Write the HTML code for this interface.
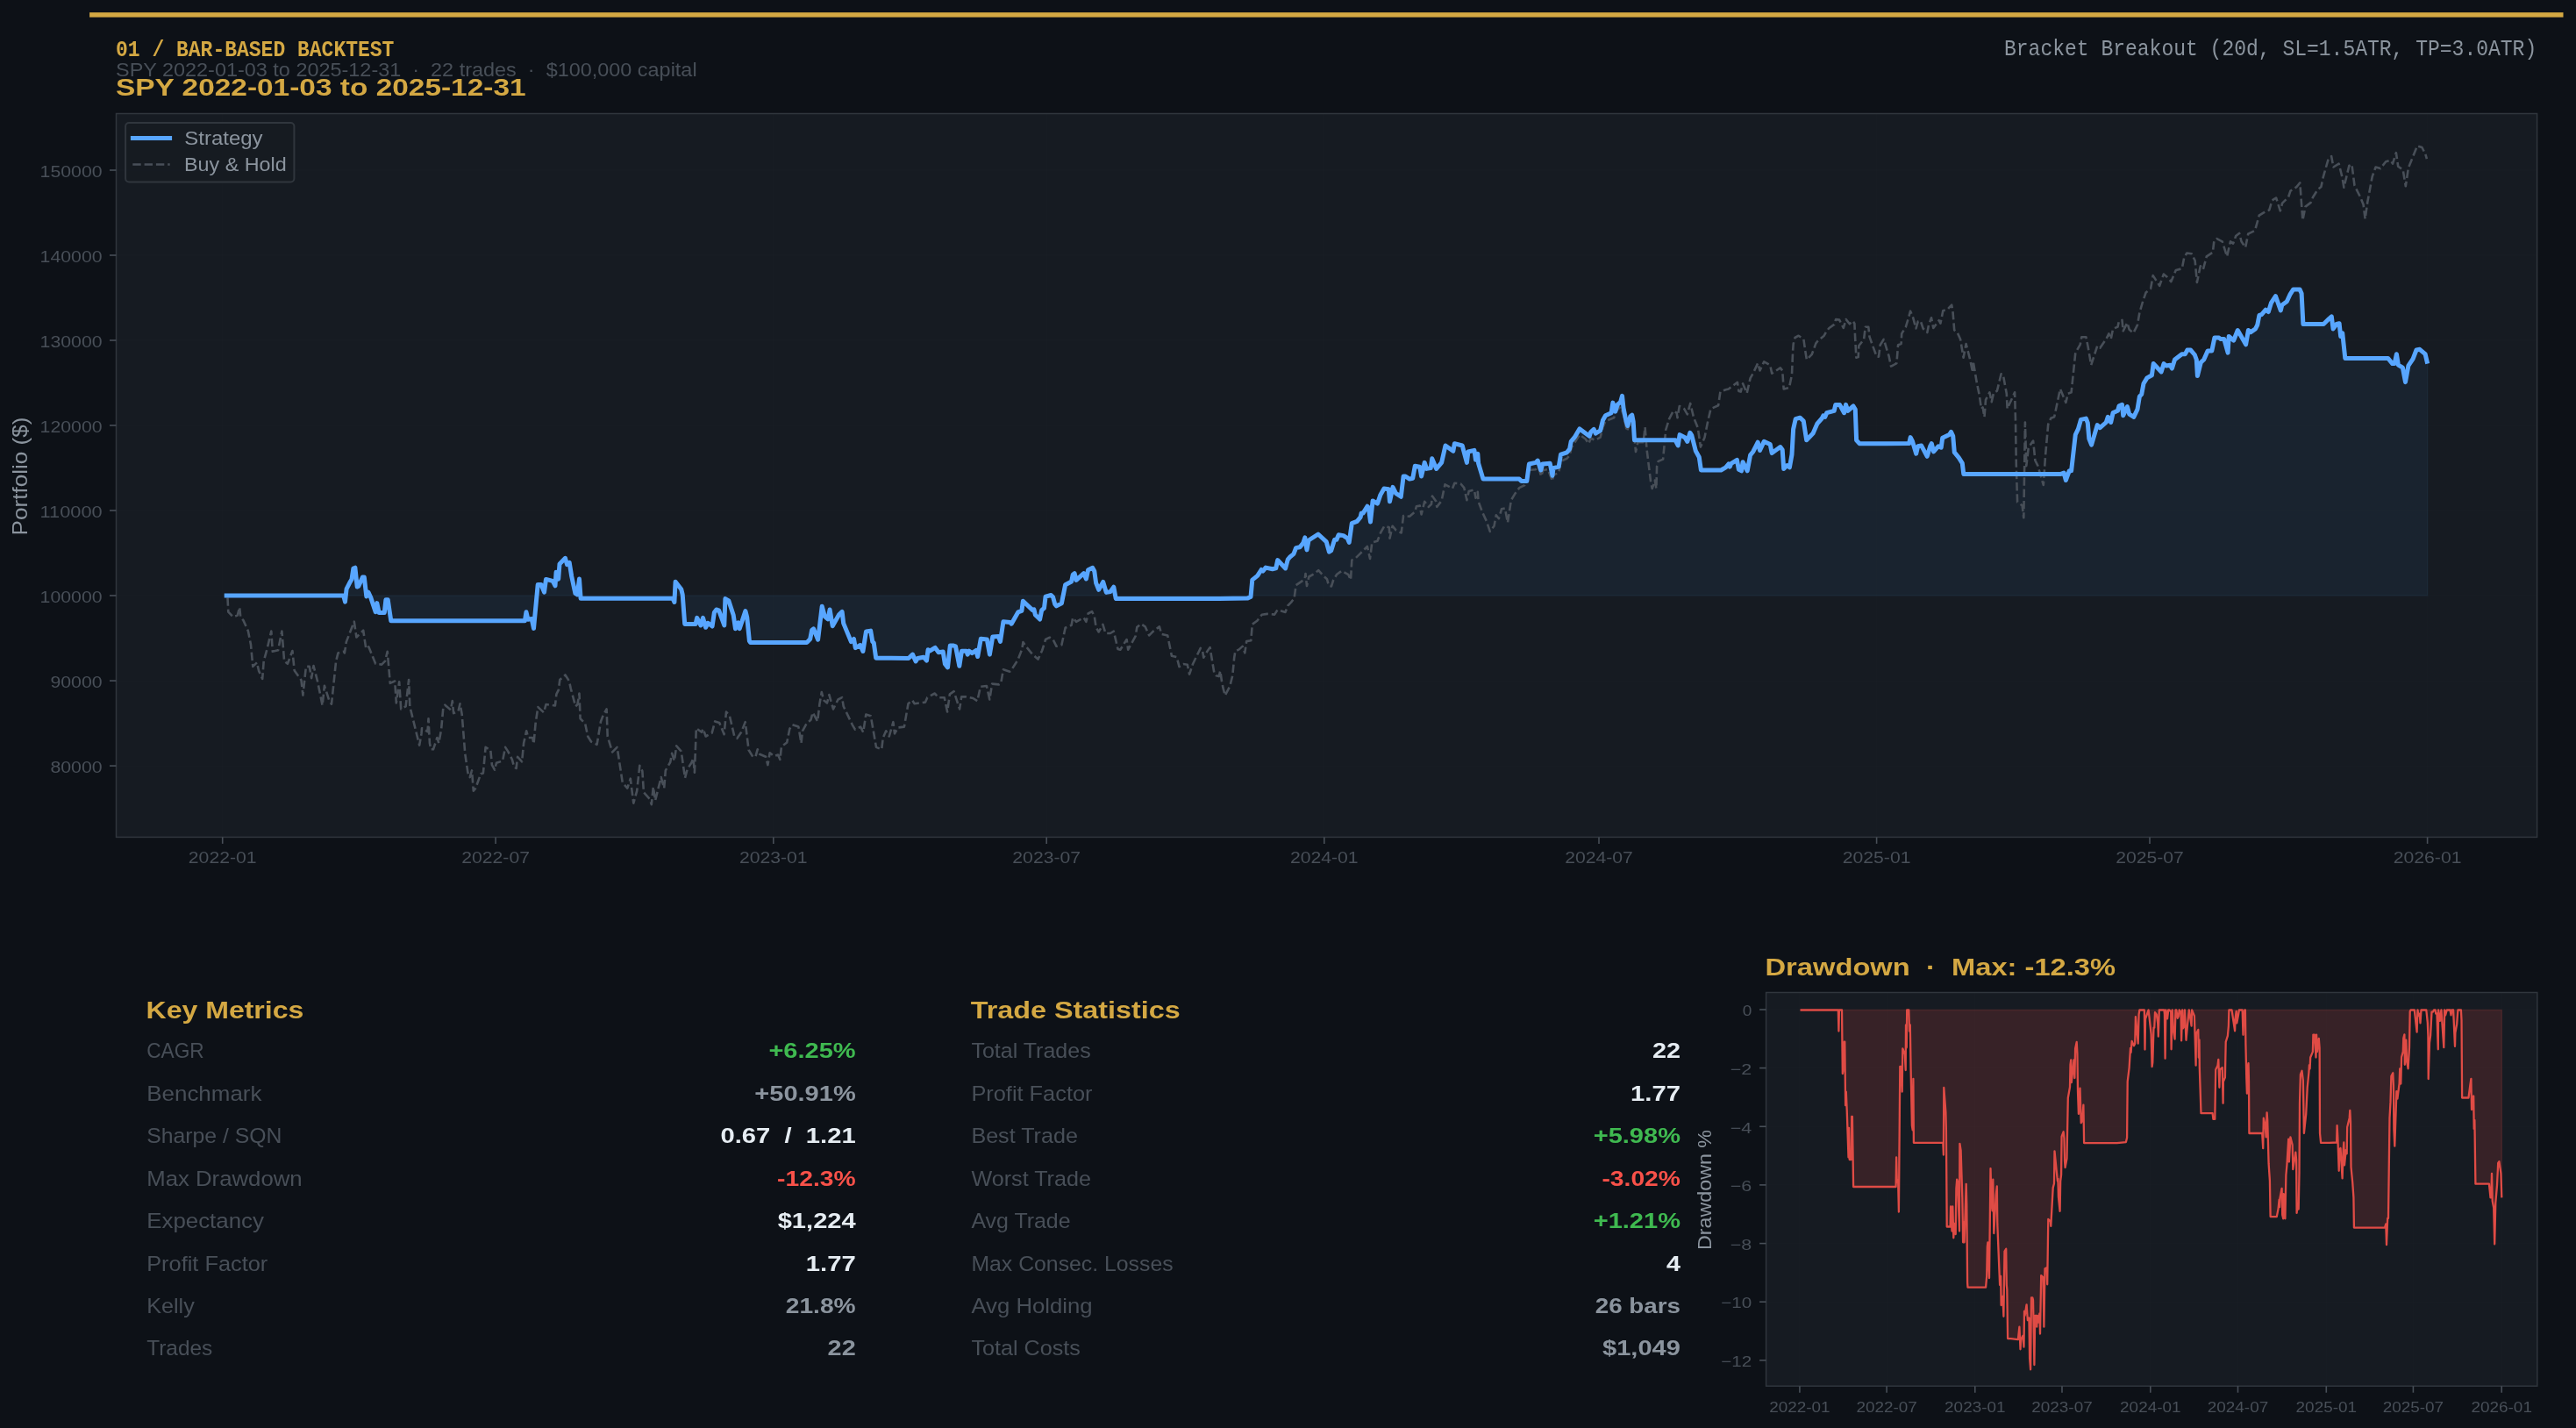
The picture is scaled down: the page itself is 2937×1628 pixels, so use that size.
<!DOCTYPE html>
<html><head><meta charset="utf-8"><title>Backtest</title>
<style>html,body{margin:0;padding:0;background:#0d1117;}text{white-space:pre;}body{width:2937px;height:1628px;overflow:hidden;font-family:"Liberation Sans",sans-serif;}</style></head>
<body>
<svg width="2937" height="1628" viewBox="0 0 2937 1628" style="display:block;will-change:transform">
<rect x="0" y="0" width="2937" height="1628" fill="#0d1117"/>
<rect x="102.1" y="14.2" width="2820.4" height="5.45" fill="#d4a843"/>
<text x="132.0" y="63.7" font-family="Liberation Mono, monospace" font-size="25.44" font-weight="bold" fill="#d4a843" text-anchor="start" textLength="317.4" lengthAdjust="spacingAndGlyphs" xml:space="preserve">01 / BAR-BASED BACKTEST</text>
<text x="132.0" y="87.0" font-family="Liberation Sans, sans-serif" font-size="21.45" font-weight="normal" fill="#484f58" text-anchor="start" textLength="662.6" lengthAdjust="spacingAndGlyphs" xml:space="preserve">SPY 2022-01-03 to 2025-12-31  ·  22 trades  ·  $100,000 capital</text>
<text x="132.0" y="108.8" font-family="Liberation Sans, sans-serif" font-size="28.04" font-weight="bold" fill="#d4a843" text-anchor="start" textLength="467.6" lengthAdjust="spacingAndGlyphs" xml:space="preserve">SPY 2022-01-03 to 2025-12-31</text>
<text x="2892.2" y="63.0" font-family="Liberation Mono, monospace" font-size="25.44" font-weight="normal" fill="#8b949e" text-anchor="end" textLength="607.2" lengthAdjust="spacingAndGlyphs" xml:space="preserve">Bracket Breakout (20d, SL=1.5ATR, TP=3.0ATR)</text>
<rect x="132.5" y="129.5" width="2760.1" height="824.9" fill="#161b22"/>
<line x1="132.5" x2="2892.6" y1="194.0" y2="194.0" stroke="#21262d" stroke-width="1.4" opacity="0.12"/>
<line x1="132.5" x2="2892.6" y1="291.0" y2="291.0" stroke="#21262d" stroke-width="1.4" opacity="0.12"/>
<line x1="132.5" x2="2892.6" y1="388.0" y2="388.0" stroke="#21262d" stroke-width="1.4" opacity="0.12"/>
<line x1="132.5" x2="2892.6" y1="485.0" y2="485.0" stroke="#21262d" stroke-width="1.4" opacity="0.12"/>
<line x1="132.5" x2="2892.6" y1="582.0" y2="582.0" stroke="#21262d" stroke-width="1.4" opacity="0.12"/>
<line x1="132.5" x2="2892.6" y1="679.0" y2="679.0" stroke="#21262d" stroke-width="1.4" opacity="0.12"/>
<line x1="132.5" x2="2892.6" y1="776.1" y2="776.1" stroke="#21262d" stroke-width="1.4" opacity="0.12"/>
<line x1="132.5" x2="2892.6" y1="873.1" y2="873.1" stroke="#21262d" stroke-width="1.4" opacity="0.12"/>
<line x1="253.7" x2="253.7" y1="129.5" y2="954.4" stroke="#21262d" stroke-width="1.4" opacity="0.12"/>
<line x1="565.1" x2="565.1" y1="129.5" y2="954.4" stroke="#21262d" stroke-width="1.4" opacity="0.12"/>
<line x1="881.8" x2="881.8" y1="129.5" y2="954.4" stroke="#21262d" stroke-width="1.4" opacity="0.12"/>
<line x1="1193.2" x2="1193.2" y1="129.5" y2="954.4" stroke="#21262d" stroke-width="1.4" opacity="0.12"/>
<line x1="1509.8" x2="1509.8" y1="129.5" y2="954.4" stroke="#21262d" stroke-width="1.4" opacity="0.12"/>
<line x1="1823.0" x2="1823.0" y1="129.5" y2="954.4" stroke="#21262d" stroke-width="1.4" opacity="0.12"/>
<line x1="2139.6" x2="2139.6" y1="129.5" y2="954.4" stroke="#21262d" stroke-width="1.4" opacity="0.12"/>
<line x1="2451.0" x2="2451.0" y1="129.5" y2="954.4" stroke="#21262d" stroke-width="1.4" opacity="0.12"/>
<line x1="2767.6" x2="2767.6" y1="129.5" y2="954.4" stroke="#21262d" stroke-width="1.4" opacity="0.12"/>
<polygon points="255.7,679.0 255.7,679.1 391.7,679.1 393.5,686.1 395.1,671.3 398.7,664.3 401.0,660.4 402.9,648.0 404.9,647.2 407.2,669.0 408.8,668.2 413.4,658.1 415.3,658.1 417.8,679.9 420.0,675.2 422.8,681.4 428.2,697.7 429.8,687.6 432.1,698.5 438.3,698.5 439.9,683.7 442.2,683.7 445.8,707.8 598.4,707.8 600.0,697.7 601.9,706.3 606.2,705.5 608.5,716.4 613.2,666.6 617.1,666.6 620.5,675.2 622.5,660.4 630.2,662.4 633.0,667.8 634.1,652.3 636.7,660.1 638.0,643.0 644.5,636.3 646.5,643.7 649.2,641.4 651.7,657.0 655.9,676.4 658.2,677.9 660.5,660.1 662.1,682.3 767.0,682.3 768.9,686.5 770.1,663.2 776.7,671.7 778.2,677.9 780.7,711.4 793.1,711.4 794.7,704.4 798.9,712.9 801.5,704.4 804.6,715.3 807.1,710.3 812.1,714.0 814.4,698.2 816.8,695.0 819.6,695.8 825.8,712.9 826.9,682.6 830.8,684.9 836.2,701.3 838.5,716.8 841.6,709.8 843.2,716.8 849.9,696.6 851.7,703.6 854.4,730.8 855.6,732.4 920.1,732.4 923.7,728.5 925.6,718.4 927.5,716.8 932.6,729.2 937.2,691.2 940.4,702.8 943.9,705.9 946.1,695.0 949.2,713.7 956.7,700.5 960.1,697.4 961.7,710.6 970.4,731.6 973.5,728.5 975.3,738.6 980.8,735.5 983.9,742.5 987.5,719.9 992.7,719.1 994.8,731.6 996.3,733.1 998.7,750.2 1010.0,750.2 1035.9,750.5 1040.5,746.1 1044.1,753.9 1046.3,750.5 1053.0,749.2 1056.5,753.1 1058.1,740.7 1060.0,742.2 1066.2,738.4 1070.1,743.8 1075.2,743.0 1077.4,757.0 1080.5,760.9 1083.3,736.0 1087.2,736.0 1089.5,736.8 1093.8,759.3 1096.5,742.2 1101.9,742.2 1103.2,746.1 1105.0,742.2 1108.2,744.6 1112.8,741.5 1114.7,748.5 1118.3,728.3 1125.3,729.0 1128.4,746.1 1131.8,725.9 1138.5,725.6 1140.5,731.4 1143.9,708.8 1151.7,709.6 1153.2,711.2 1160.7,697.9 1164.9,696.4 1166.4,685.2 1177.3,695.6 1178.9,694.8 1180.4,701.0 1185.6,706.0 1187.7,695.6 1190.5,693.3 1192.1,680.1 1198.3,678.5 1200.6,680.8 1202.7,688.6 1204.5,690.9 1210.4,687.8 1214.6,666.8 1221.6,663.0 1223.2,655.2 1225.1,653.6 1227.1,661.4 1235.6,653.6 1238.4,659.9 1240.6,649.7 1245.7,647.4 1247.8,651.3 1249.6,664.5 1252.7,672.3 1257.7,663.4 1261.3,675.4 1265.9,674.6 1269.8,669.2 1272.2,682.4 1390.0,682.4 1422.1,682.1 1426.0,680.5 1427.8,661.1 1433.7,656.4 1438.1,649.5 1440.0,651.0 1443.1,647.1 1450.8,648.7 1454.7,647.9 1456.7,638.6 1465.6,647.9 1468.3,637.8 1471.0,634.7 1474.9,631.6 1477.6,624.6 1481.9,623.8 1485.8,619.1 1487.8,612.9 1490.0,626.9 1492.0,616.0 1502.9,609.0 1512.2,617.6 1515.4,629.2 1517.7,627.7 1521.6,615.3 1523.9,615.3 1526.2,609.8 1531.7,610.6 1536.3,613.7 1538.2,618.4 1541.3,596.6 1547.2,594.3 1551.1,589.6 1552.2,584.9 1554.2,584.9 1558.9,577.2 1560.4,578.7 1562.5,595.0 1565.1,570.9 1570.5,574.1 1574.0,563.9 1578.0,557.0 1583.3,557.7 1584.5,571.7 1588.0,555.4 1591.5,562.4 1597.3,566.3 1600.1,543.0 1602.4,543.0 1607.1,546.1 1610.7,545.3 1613.3,531.3 1618.7,532.1 1620.6,543.0 1624.2,527.4 1626.5,534.4 1631.2,533.6 1632.7,522.8 1637.7,534.4 1643.6,527.4 1648.0,508.0 1656.8,514.2 1658.4,505.7 1667.2,508.0 1672.4,527.4 1673.9,515.0 1680.9,513.4 1682.5,524.3 1684.8,517.3 1685.6,528.2 1691.0,546.1 1732.2,546.1 1734.6,548.4 1740.8,548.4 1743.4,529.0 1750.9,527.4 1753.2,525.1 1756.8,536.0 1758.7,529.0 1767.2,528.2 1770.0,542.2 1771.0,533.7 1777.2,532.1 1779.5,518.2 1786.5,515.8 1789.6,511.9 1791.2,503.4 1795.1,498.7 1801.0,488.9 1812.2,497.2 1813.7,492.5 1817.2,489.4 1819.2,494.1 1824.6,490.9 1827.4,479.3 1830.5,473.8 1837.1,470.7 1838.9,459.1 1841.7,469.2 1844.1,461.4 1847.6,458.3 1849.5,451.3 1851.0,465.3 1853.8,479.3 1855.7,485.5 1858.8,474.6 1860.7,473.1 1862.2,480.8 1863.5,501.8 1910.1,501.8 1913.2,508.0 1915.1,495.6 1921.0,498.7 1923.8,503.4 1926.9,493.3 1928.8,496.4 1933.4,514.3 1937.3,521.3 1939.4,536.0 1962.2,536.0 1967.6,532.9 1970.8,529.0 1972.3,532.1 1973.9,528.3 1980.4,524.4 1982.4,535.3 1985.5,536.8 1987.1,526.7 1992.2,536.8 1995.6,518.9 1998.7,515.0 2004.2,504.2 2006.5,513.5 2011.2,503.4 2018.2,506.5 2020.2,516.6 2029.8,509.6 2032.2,512.7 2033.7,534.5 2037.6,530.6 2040.4,532.9 2043.0,518.2 2044.6,489.4 2047.2,477.7 2052.4,476.2 2056.3,480.1 2059.7,501.8 2067.1,494.1 2071.8,483.2 2077.2,477.0 2078.8,473.8 2080.8,475.4 2082.7,470.7 2091.2,468.4 2092.8,461.4 2097.5,461.4 2102.6,470.7 2104.5,461.4 2106.8,468.4 2113.0,463.0 2115.3,466.8 2116.6,501.8 2120.0,505.7 2150.0,505.7 2176.6,505.6 2178.2,498.6 2180.5,503.2 2184.7,517.2 2186.7,508.7 2190.6,507.9 2197.2,520.3 2200.7,508.7 2202.3,505.6 2204.6,514.9 2210.1,508.7 2213.2,510.2 2214.7,499.3 2222.5,495.5 2224.5,492.4 2226.7,497.0 2228.3,515.7 2233.4,521.9 2237.3,528.1 2238.8,540.5 2349.2,540.5 2353.1,539.0 2355.4,547.5 2359.3,536.7 2361.6,536.7 2366.3,495.5 2369.4,489.2 2372.5,478.4 2378.4,477.1 2380.3,482.2 2381.8,500.1 2384.6,507.1 2391.2,484.6 2394.3,487.7 2401.3,481.5 2403.3,475.3 2406.7,481.5 2409.1,470.6 2414.5,468.3 2416.0,462.8 2419.5,461.3 2420.7,473.7 2425.4,463.6 2427.7,472.1 2432.8,475.3 2437.0,466.7 2439.4,451.9 2441.7,449.6 2444.0,437.2 2447.9,430.9 2453.4,427.8 2455.2,414.6 2464.2,423.9 2467.0,414.6 2469.7,417.0 2474.3,416.2 2476.4,420.1 2479.5,410.0 2487.6,403.7 2491.4,403.7 2493.8,399.1 2497.7,399.1 2502.3,404.5 2504.3,410.0 2505.4,428.6 2509.3,413.1 2512.7,410.0 2517.1,399.9 2521.8,399.9 2524.9,385.1 2530.0,385.1 2531.9,386.6 2535.8,386.6 2540.1,402.1 2541.2,383.5 2546.6,388.2 2551.3,376.5 2560.6,392.8 2563.4,376.5 2566.1,378.8 2571.5,374.9 2573.8,370.3 2575.9,359.4 2578.5,358.6 2583.2,353.2 2586.3,355.5 2589.4,345.4 2594.5,337.6 2600.3,353.9 2601.8,347.7 2607.3,343.8 2611.2,335.3 2614.7,329.9 2622.0,329.9 2624.1,334.5 2625.9,369.5 2649.2,369.5 2655.5,363.3 2658.3,360.9 2660.1,374.9 2664.0,369.5 2667.1,368.7 2668.7,383.5 2670.7,379.6 2673.8,408.4 2722.6,408.4 2727.7,414.6 2730.1,414.6 2732.4,403.7 2734.4,416.1 2739.4,419.2 2742.5,435.6 2745.9,416.9 2751.1,409.1 2755.0,399.0 2758.8,398.3 2765.1,403.7 2767.7,414.6 2767.7,679.0" fill="#58a6ff" fill-opacity="0.06" stroke="#58a6ff" stroke-opacity="0.06" stroke-width="1.4"/>
<polyline points="259.5,681.4 260.3,697.7 265.8,703.2 270.7,701.6 273.2,692.3 274.3,703.9 277.4,707.1 282.9,719.5 286.0,735.0 288.3,759.9 293.0,755.3 295.0,764.6 299.2,773.9 300.7,753.7 304.6,739.7 309.3,719.5 310.8,742.8 317.1,741.3 321.4,719.5 324.1,753.7 327.9,756.8 333.4,742.0 335.7,764.6 343.5,775.5 345.4,792.6 348.9,759.9 352.8,759.9 355.1,773.1 357.5,759.1 362.1,777.0 367.6,804.2 369.9,781.7 375.4,798.8 378.0,802.7 383.1,753.7 385.5,744.4 391.7,742.8 392.9,744.4 394.8,731.9 403.8,708.6 406.4,726.5 414.2,718.7 417.3,739.7 420.4,737.4 428.2,756.8 435.2,757.6 439.1,753.7 441.7,742.8 444.8,778.9 450.2,776.5 451.8,801.4 455.2,777.3 457.2,808.4 462.6,805.3 466.1,775.0 467.3,805.3 475.1,837.2 478.2,849.6 480.5,836.4 481.0,830.2 487.5,834.1 488.5,819.3 489.9,847.3 491.4,854.3 494.0,854.3 498.4,841.0 500.3,847.3 503.1,831.7 505.4,806.1 507.3,803.7 513.9,809.2 515.8,799.1 517.1,813.1 522.5,810.7 524.5,802.2 526.7,814.6 530.3,859.7 533.4,880.7 535.7,886.1 538.0,878.4 539.8,901.7 542.2,898.6 548.2,882.2 550.9,881.5 553.6,851.9 559.3,855.0 560.9,872.1 564.0,877.6 566.0,869.8 573.0,867.5 576.1,851.9 579.2,856.6 583.9,865.9 586.2,874.5 588.6,876.0 590.1,862.8 595.1,868.3 597.1,847.3 600.2,833.3 602.3,841.0 607.2,841.0 608.5,848.0 610.6,824.7 613.4,806.1 620.0,812.3 622.5,803.0 632.9,804.5 634.4,791.3 636.8,786.6 638.3,775.0 644.5,769.5 648.9,776.5 650.8,785.1 656.2,805.3 658.5,803.0 660.5,790.5 661.6,819.3 667.1,824.7 670.2,839.5 674.1,845.7 680.6,848.8 685.0,822.4 688.1,814.6 691.6,808.4 692.7,839.5 698.2,857.4 703.6,851.9 709.8,892.4 715.3,898.6 718.8,887.7 722.3,915.7 726.2,901.7 729.3,872.9 732.4,879.1 733.9,903.2 740.9,911.0 742.8,917.2 744.8,897.0 747.1,912.6 753.7,886.1 757.2,898.6 758.8,878.4 764.2,869.0 766.1,858.9 768.9,867.5 771.2,850.4 776.7,856.6 781.0,886.9 783.7,876.8 788.3,869.8 790.4,864.4 791.9,880.7 793.8,830.2 800.0,834.8 801.6,830.9 804.7,839.5 811.7,835.6 815.2,822.4 820.2,823.9 825.6,837.2 828.0,811.5 831.9,816.2 837.3,839.5 840.4,841.8 845.1,834.8 849.7,823.2 853.6,855.0 858.3,862.8 861.4,862.8 863.7,854.3 866.1,859.7 873.1,862.8 875.4,872.1 877.7,858.2 882.4,862.0 887.1,860.5 889.4,865.9 890.9,851.2 897.2,846.5 900.3,830.9 903.4,826.3 910.4,828.6 913.5,847.3 915.0,833.3 919.7,824.7 924.4,820.8 926.7,812.3 932.1,822.4 934.5,802.2 936.8,789.0 939.1,798.3 943.0,801.4 945.4,792.1 950.0,808.4 955.5,797.5 960.1,795.2 961.7,805.3 971.8,826.3 974.9,831.7 981.1,828.6 984.2,834.8 987.3,814.6 992.8,816.2 999.0,851.9 1005.2,854.3 1006.8,841.0 1010.2,833.3 1013.8,839.5 1018.4,823.2 1020.0,836.4 1023.9,829.4 1030.9,828.6 1035.5,802.2 1040.2,798.3 1042.5,802.2 1055.0,800.6 1057.3,795.2 1065.8,790.5 1069.7,795.2 1076.7,795.2 1080.1,811.5 1082.9,791.3 1087.6,788.2 1094.1,808.4 1096.2,794.4 1101.6,794.4 1109.4,796.0 1114.3,799.1 1117.9,782.8 1124.9,782.0 1128.3,797.5 1131.1,779.6 1138.9,780.4 1141.2,778.9 1143.9,763.3 1151.3,765.7 1152.9,764.1 1160.4,752.4 1165.3,740.0 1166.4,732.1 1170.3,737.6 1177.3,746.1 1183.5,751.6 1188.2,741.5 1192.1,729.0 1196.8,726.7 1200.6,729.0 1204.5,736.8 1210.4,735.3 1214.6,715.8 1221.6,712.7 1223.2,704.2 1227.1,708.8 1235.6,704.2 1238.4,708.8 1240.6,699.5 1245.0,697.2 1247.8,702.6 1249.6,715.0 1252.7,720.5 1257.4,711.9 1260.5,722.0 1265.9,722.0 1269.8,719.7 1274.5,739.9 1277.3,740.7 1284.6,729.0 1286.2,740.7 1294.7,725.1 1296.3,715.0 1300.9,711.2 1305.6,714.3 1310.2,724.4 1314.9,719.7 1321.9,714.3 1324.2,722.8 1331.2,724.4 1335.9,747.7 1341.7,749.2 1344.5,760.1 1349.1,757.0 1353.8,757.8 1356.1,768.7 1360.0,757.0 1368.8,738.9 1371.1,742.4 1372.3,749.7 1376.5,742.4 1379.6,738.1 1381.2,748.2 1384.3,766.8 1386.6,770.3 1389.7,771.1 1391.3,764.9 1392.9,776.2 1394.4,783.9 1396.7,792.9 1402.2,782.4 1405.3,770.0 1407.2,749.7 1408.4,742.4 1412.7,740.4 1416.6,736.9 1419.3,744.3 1421.2,731.1 1426.3,730.3 1427.8,711.7 1433.3,707.8 1438.7,700.8 1444.9,699.9 1453.1,700.6 1456.6,695.2 1465.5,697.9 1468.3,690.5 1472.1,686.6 1475.6,682.0 1477.6,667.2 1487.7,660.2 1488.5,654.0 1490.0,668.0 1492.4,657.5 1499.3,653.6 1503.2,650.1 1508.7,656.3 1513.0,660.2 1514.9,667.6 1518.0,668.4 1520.3,661.0 1524.2,654.8 1529.7,650.9 1537.4,655.2 1540.0,661.0 1541.3,638.6 1545.7,636.2 1551.1,630.8 1558.9,623.0 1562.0,637.0 1564.3,618.4 1570.5,616.8 1574.0,607.5 1578.3,599.7 1583.8,601.3 1584.5,613.7 1587.6,599.7 1591.5,604.4 1597.7,607.5 1600.1,588.0 1607.1,588.8 1613.3,583.4 1614.9,577.2 1618.7,576.4 1620.6,586.5 1624.2,571.7 1628.8,577.9 1632.0,574.8 1633.0,565.5 1637.4,571.7 1638.2,577.9 1643.6,570.9 1647.5,552.3 1656.0,557.0 1658.4,550.7 1665.4,551.5 1669.3,556.2 1672.4,570.2 1674.7,560.1 1680.9,558.5 1682.5,567.8 1684.8,560.8 1685.6,571.7 1690.2,584.2 1694.9,594.3 1698.8,605.9 1703.5,599.7 1705.8,587.3 1708.9,591.2 1712.0,580.3 1715.9,579.5 1719.0,595.8 1722.9,570.2 1727.6,562.4 1732.2,556.2 1738.4,553.1 1743.1,536.0 1750.9,535.2 1754.0,532.1 1757.1,543.0 1759.4,536.0 1764.9,535.2 1770.0,548.4 1771.0,541.5 1777.2,539.1 1779.5,525.9 1786.5,522.8 1789.6,518.9 1791.7,510.4 1801.0,495.6 1807.5,500.3 1811.4,505.7 1813.7,499.5 1818.4,501.8 1824.6,498.7 1827.4,487.1 1830.5,480.1 1840.2,476.2 1841.7,469.2 1847.6,463.7 1851.0,473.1 1854.9,491.7 1858.8,480.8 1862.2,487.8 1865.0,515.0 1867.4,504.2 1873.6,504.2 1875.6,487.1 1877.5,511.9 1882.1,549.2 1883.7,557.0 1886.8,547.7 1888.4,557.0 1889.1,531.4 1890.7,525.9 1896.1,523.6 1899.2,490.2 1903.1,477.7 1907.8,468.4 1911.7,470.7 1912.5,476.2 1914.8,463.0 1920.2,466.1 1923.8,472.3 1927.2,459.9 1931.1,476.2 1935.8,487.8 1938.9,509.6 1943.5,498.7 1947.4,479.3 1950.5,466.1 1959.1,462.2 1961.4,446.6 1967.6,444.3 1970.8,443.5 1980.9,435.8 1982.4,445.9 1984.7,446.6 1987.1,437.3 1991.7,448.2 1995.6,431.1 1998.7,425.7 2004.2,414.0 2006.5,422.5 2011.2,412.4 2018.2,416.3 2020.2,425.7 2029.8,419.4 2032.2,422.5 2033.7,443.5 2039.9,442.0 2043.0,427.2 2044.1,400.0 2044.7,392.0 2046.5,385.0 2050.6,382.7 2056.4,386.8 2058.1,399.0 2059.9,410.1 2065.7,404.2 2070.4,391.4 2072.7,388.5 2079.7,382.7 2082.6,377.4 2085.5,374.0 2091.3,369.9 2093.1,364.1 2097.1,364.6 2101.8,374.0 2104.7,364.1 2108.8,369.3 2112.3,365.8 2114.4,368.7 2115.2,386.2 2116.4,407.7 2118.7,407.1 2119.3,394.3 2125.1,386.8 2126.8,372.8 2130.3,372.8 2131.5,383.9 2135.0,393.8 2139.7,406.6 2142.0,406.6 2143.7,393.2 2147.8,386.8 2150.7,396.7 2153.6,406.0 2156.0,417.6 2158.3,416.5 2162.4,414.1 2164.1,393.2 2167.6,392.0 2168.2,380.4 2172.8,372.8 2175.8,362.9 2178.1,354.7 2181.0,361.7 2184.5,374.5 2186.8,366.4 2189.7,365.8 2192.6,374.5 2197.3,379.2 2199.0,370.5 2202.0,362.3 2204.3,374.0 2207.8,369.3 2210.7,365.2 2212.4,368.7 2215.3,354.2 2220.0,353.0 2225.2,347.7 2226.4,354.2 2228.2,376.3 2231.7,379.2 2235.1,386.8 2238.6,407.7 2241.6,392.0 2246.2,410.1 2249.1,424.6 2249.7,411.8 2253.8,436.3 2256.7,450.2 2259.0,466.0 2260.6,464.4 2262.5,475.3 2264.0,455.8 2268.4,447.3 2270.7,458.2 2273.0,448.0 2276.9,445.7 2281.6,426.3 2283.9,427.8 2287.8,448.8 2288.6,465.9 2297.1,447.3 2298.0,479.9 2298.8,530.0 2300.1,572.4 2305.6,576.3 2307.3,590.3 2308.9,481.5 2310.3,531.2 2312.7,511.0 2315.0,507.1 2318.1,502.5 2320.4,525.0 2323.5,531.2 2329.8,553.0 2332.1,518.8 2335.2,483.8 2338.3,476.8 2342.2,475.3 2348.9,443.4 2355.4,458.9 2357.7,448.8 2361.6,447.3 2366.3,402.2 2371.7,392.9 2373.3,384.3 2378.4,384.3 2380.6,395.2 2384.2,416.2 2391.2,394.4 2394.3,396.7 2401.3,386.6 2404.4,380.4 2406.7,386.6 2409.1,375.0 2414.5,372.6 2416.0,365.7 2419.5,364.9 2420.7,377.3 2425.4,368.0 2427.7,375.8 2432.4,379.6 2437.0,370.3 2439.4,356.3 2443.3,343.1 2446.6,333.5 2452.1,328.9 2454.7,314.1 2462.2,325.8 2466.8,312.6 2470.7,315.7 2475.4,321.1 2480.8,307.9 2487.8,306.3 2490.2,293.9 2493.3,288.5 2498.7,289.2 2502.6,297.0 2504.9,321.9 2508.8,303.2 2511.9,307.1 2515.8,292.4 2522.8,287.7 2524.4,274.5 2527.5,272.1 2533.7,275.3 2539.1,292.4 2543.0,275.3 2546.1,277.6 2549.2,269.0 2553.1,265.9 2555.5,275.3 2560.1,282.2 2563.2,266.7 2571.0,262.8 2574.9,248.8 2575.7,245.7 2584.2,240.3 2587.3,239.5 2590.4,228.6 2595.1,225.5 2599.8,240.3 2602.1,231.7 2609.1,224.7 2611.4,217.7 2618.4,213.1 2622.3,208.4 2625.4,251.2 2628.5,235.6 2634.7,230.9 2637.1,224.7 2642.5,216.2 2646.4,213.1 2648.7,202.2 2654.2,182.8 2658.1,178.1 2660.4,190.5 2666.6,186.6 2670.5,202.2 2672.4,213.8 2678.3,189.0 2681.4,187.4 2684.5,211.5 2690.7,223.9 2694.6,233.3 2696.6,249.6 2699.3,230.2 2704.7,201.4 2708.6,190.5 2714.0,192.1 2720.2,184.3 2725.7,182.8 2728.0,186.6 2731.9,174.2 2734.2,189.7 2739.7,193.6 2742.8,212.3 2745.9,191.3 2751.3,178.1 2756.0,166.4 2761.4,168.0 2765.3,175.8 2766.9,181.2" fill="none" stroke="#484f58" stroke-width="2.6" stroke-dasharray="9.4 3.9" stroke-linejoin="round"/>
<polyline points="255.7,679.1 391.7,679.1 393.5,686.1 395.1,671.3 398.7,664.3 401.0,660.4 402.9,648.0 404.9,647.2 407.2,669.0 408.8,668.2 413.4,658.1 415.3,658.1 417.8,679.9 420.0,675.2 422.8,681.4 428.2,697.7 429.8,687.6 432.1,698.5 438.3,698.5 439.9,683.7 442.2,683.7 445.8,707.8 598.4,707.8 600.0,697.7 601.9,706.3 606.2,705.5 608.5,716.4 613.2,666.6 617.1,666.6 620.5,675.2 622.5,660.4 630.2,662.4 633.0,667.8 634.1,652.3 636.7,660.1 638.0,643.0 644.5,636.3 646.5,643.7 649.2,641.4 651.7,657.0 655.9,676.4 658.2,677.9 660.5,660.1 662.1,682.3 767.0,682.3 768.9,686.5 770.1,663.2 776.7,671.7 778.2,677.9 780.7,711.4 793.1,711.4 794.7,704.4 798.9,712.9 801.5,704.4 804.6,715.3 807.1,710.3 812.1,714.0 814.4,698.2 816.8,695.0 819.6,695.8 825.8,712.9 826.9,682.6 830.8,684.9 836.2,701.3 838.5,716.8 841.6,709.8 843.2,716.8 849.9,696.6 851.7,703.6 854.4,730.8 855.6,732.4 920.1,732.4 923.7,728.5 925.6,718.4 927.5,716.8 932.6,729.2 937.2,691.2 940.4,702.8 943.9,705.9 946.1,695.0 949.2,713.7 956.7,700.5 960.1,697.4 961.7,710.6 970.4,731.6 973.5,728.5 975.3,738.6 980.8,735.5 983.9,742.5 987.5,719.9 992.7,719.1 994.8,731.6 996.3,733.1 998.7,750.2 1010.0,750.2 1035.9,750.5 1040.5,746.1 1044.1,753.9 1046.3,750.5 1053.0,749.2 1056.5,753.1 1058.1,740.7 1060.0,742.2 1066.2,738.4 1070.1,743.8 1075.2,743.0 1077.4,757.0 1080.5,760.9 1083.3,736.0 1087.2,736.0 1089.5,736.8 1093.8,759.3 1096.5,742.2 1101.9,742.2 1103.2,746.1 1105.0,742.2 1108.2,744.6 1112.8,741.5 1114.7,748.5 1118.3,728.3 1125.3,729.0 1128.4,746.1 1131.8,725.9 1138.5,725.6 1140.5,731.4 1143.9,708.8 1151.7,709.6 1153.2,711.2 1160.7,697.9 1164.9,696.4 1166.4,685.2 1177.3,695.6 1178.9,694.8 1180.4,701.0 1185.6,706.0 1187.7,695.6 1190.5,693.3 1192.1,680.1 1198.3,678.5 1200.6,680.8 1202.7,688.6 1204.5,690.9 1210.4,687.8 1214.6,666.8 1221.6,663.0 1223.2,655.2 1225.1,653.6 1227.1,661.4 1235.6,653.6 1238.4,659.9 1240.6,649.7 1245.7,647.4 1247.8,651.3 1249.6,664.5 1252.7,672.3 1257.7,663.4 1261.3,675.4 1265.9,674.6 1269.8,669.2 1272.2,682.4 1390.0,682.4 1422.1,682.1 1426.0,680.5 1427.8,661.1 1433.7,656.4 1438.1,649.5 1440.0,651.0 1443.1,647.1 1450.8,648.7 1454.7,647.9 1456.7,638.6 1465.6,647.9 1468.3,637.8 1471.0,634.7 1474.9,631.6 1477.6,624.6 1481.9,623.8 1485.8,619.1 1487.8,612.9 1490.0,626.9 1492.0,616.0 1502.9,609.0 1512.2,617.6 1515.4,629.2 1517.7,627.7 1521.6,615.3 1523.9,615.3 1526.2,609.8 1531.7,610.6 1536.3,613.7 1538.2,618.4 1541.3,596.6 1547.2,594.3 1551.1,589.6 1552.2,584.9 1554.2,584.9 1558.9,577.2 1560.4,578.7 1562.5,595.0 1565.1,570.9 1570.5,574.1 1574.0,563.9 1578.0,557.0 1583.3,557.7 1584.5,571.7 1588.0,555.4 1591.5,562.4 1597.3,566.3 1600.1,543.0 1602.4,543.0 1607.1,546.1 1610.7,545.3 1613.3,531.3 1618.7,532.1 1620.6,543.0 1624.2,527.4 1626.5,534.4 1631.2,533.6 1632.7,522.8 1637.7,534.4 1643.6,527.4 1648.0,508.0 1656.8,514.2 1658.4,505.7 1667.2,508.0 1672.4,527.4 1673.9,515.0 1680.9,513.4 1682.5,524.3 1684.8,517.3 1685.6,528.2 1691.0,546.1 1732.2,546.1 1734.6,548.4 1740.8,548.4 1743.4,529.0 1750.9,527.4 1753.2,525.1 1756.8,536.0 1758.7,529.0 1767.2,528.2 1770.0,542.2 1771.0,533.7 1777.2,532.1 1779.5,518.2 1786.5,515.8 1789.6,511.9 1791.2,503.4 1795.1,498.7 1801.0,488.9 1812.2,497.2 1813.7,492.5 1817.2,489.4 1819.2,494.1 1824.6,490.9 1827.4,479.3 1830.5,473.8 1837.1,470.7 1838.9,459.1 1841.7,469.2 1844.1,461.4 1847.6,458.3 1849.5,451.3 1851.0,465.3 1853.8,479.3 1855.7,485.5 1858.8,474.6 1860.7,473.1 1862.2,480.8 1863.5,501.8 1910.1,501.8 1913.2,508.0 1915.1,495.6 1921.0,498.7 1923.8,503.4 1926.9,493.3 1928.8,496.4 1933.4,514.3 1937.3,521.3 1939.4,536.0 1962.2,536.0 1967.6,532.9 1970.8,529.0 1972.3,532.1 1973.9,528.3 1980.4,524.4 1982.4,535.3 1985.5,536.8 1987.1,526.7 1992.2,536.8 1995.6,518.9 1998.7,515.0 2004.2,504.2 2006.5,513.5 2011.2,503.4 2018.2,506.5 2020.2,516.6 2029.8,509.6 2032.2,512.7 2033.7,534.5 2037.6,530.6 2040.4,532.9 2043.0,518.2 2044.6,489.4 2047.2,477.7 2052.4,476.2 2056.3,480.1 2059.7,501.8 2067.1,494.1 2071.8,483.2 2077.2,477.0 2078.8,473.8 2080.8,475.4 2082.7,470.7 2091.2,468.4 2092.8,461.4 2097.5,461.4 2102.6,470.7 2104.5,461.4 2106.8,468.4 2113.0,463.0 2115.3,466.8 2116.6,501.8 2120.0,505.7 2150.0,505.7 2176.6,505.6 2178.2,498.6 2180.5,503.2 2184.7,517.2 2186.7,508.7 2190.6,507.9 2197.2,520.3 2200.7,508.7 2202.3,505.6 2204.6,514.9 2210.1,508.7 2213.2,510.2 2214.7,499.3 2222.5,495.5 2224.5,492.4 2226.7,497.0 2228.3,515.7 2233.4,521.9 2237.3,528.1 2238.8,540.5 2349.2,540.5 2353.1,539.0 2355.4,547.5 2359.3,536.7 2361.6,536.7 2366.3,495.5 2369.4,489.2 2372.5,478.4 2378.4,477.1 2380.3,482.2 2381.8,500.1 2384.6,507.1 2391.2,484.6 2394.3,487.7 2401.3,481.5 2403.3,475.3 2406.7,481.5 2409.1,470.6 2414.5,468.3 2416.0,462.8 2419.5,461.3 2420.7,473.7 2425.4,463.6 2427.7,472.1 2432.8,475.3 2437.0,466.7 2439.4,451.9 2441.7,449.6 2444.0,437.2 2447.9,430.9 2453.4,427.8 2455.2,414.6 2464.2,423.9 2467.0,414.6 2469.7,417.0 2474.3,416.2 2476.4,420.1 2479.5,410.0 2487.6,403.7 2491.4,403.7 2493.8,399.1 2497.7,399.1 2502.3,404.5 2504.3,410.0 2505.4,428.6 2509.3,413.1 2512.7,410.0 2517.1,399.9 2521.8,399.9 2524.9,385.1 2530.0,385.1 2531.9,386.6 2535.8,386.6 2540.1,402.1 2541.2,383.5 2546.6,388.2 2551.3,376.5 2560.6,392.8 2563.4,376.5 2566.1,378.8 2571.5,374.9 2573.8,370.3 2575.9,359.4 2578.5,358.6 2583.2,353.2 2586.3,355.5 2589.4,345.4 2594.5,337.6 2600.3,353.9 2601.8,347.7 2607.3,343.8 2611.2,335.3 2614.7,329.9 2622.0,329.9 2624.1,334.5 2625.9,369.5 2649.2,369.5 2655.5,363.3 2658.3,360.9 2660.1,374.9 2664.0,369.5 2667.1,368.7 2668.7,383.5 2670.7,379.6 2673.8,408.4 2722.6,408.4 2727.7,414.6 2730.1,414.6 2732.4,403.7 2734.4,416.1 2739.4,419.2 2742.5,435.6 2745.9,416.9 2751.1,409.1 2755.0,399.0 2758.8,398.3 2765.1,403.7 2767.7,414.6" fill="none" stroke="#58a6ff" stroke-width="5" stroke-linejoin="round" stroke-linecap="butt"/>
<rect x="132.5" y="129.5" width="2760.1" height="824.9" fill="none" stroke="#30363d" stroke-width="1.5"/>
<line x1="125.0" x2="132.5" y1="194.0" y2="194.0" stroke="#484f58" stroke-width="1.6"/>
<text x="116.6" y="201.6" font-family="Liberation Sans, sans-serif" font-size="19.16" font-weight="normal" fill="#484f58" text-anchor="end" textLength="71.0" lengthAdjust="spacingAndGlyphs" xml:space="preserve">150000</text>
<line x1="125.0" x2="132.5" y1="291.0" y2="291.0" stroke="#484f58" stroke-width="1.6"/>
<text x="116.6" y="298.6" font-family="Liberation Sans, sans-serif" font-size="19.16" font-weight="normal" fill="#484f58" text-anchor="end" textLength="71.0" lengthAdjust="spacingAndGlyphs" xml:space="preserve">140000</text>
<line x1="125.0" x2="132.5" y1="388.0" y2="388.0" stroke="#484f58" stroke-width="1.6"/>
<text x="116.6" y="395.6" font-family="Liberation Sans, sans-serif" font-size="19.16" font-weight="normal" fill="#484f58" text-anchor="end" textLength="71.0" lengthAdjust="spacingAndGlyphs" xml:space="preserve">130000</text>
<line x1="125.0" x2="132.5" y1="485.0" y2="485.0" stroke="#484f58" stroke-width="1.6"/>
<text x="116.6" y="492.6" font-family="Liberation Sans, sans-serif" font-size="19.16" font-weight="normal" fill="#484f58" text-anchor="end" textLength="71.0" lengthAdjust="spacingAndGlyphs" xml:space="preserve">120000</text>
<line x1="125.0" x2="132.5" y1="582.0" y2="582.0" stroke="#484f58" stroke-width="1.6"/>
<text x="116.6" y="589.6" font-family="Liberation Sans, sans-serif" font-size="19.16" font-weight="normal" fill="#484f58" text-anchor="end" textLength="71.0" lengthAdjust="spacingAndGlyphs" xml:space="preserve">110000</text>
<line x1="125.0" x2="132.5" y1="679.0" y2="679.0" stroke="#484f58" stroke-width="1.6"/>
<text x="116.6" y="686.6" font-family="Liberation Sans, sans-serif" font-size="19.16" font-weight="normal" fill="#484f58" text-anchor="end" textLength="71.0" lengthAdjust="spacingAndGlyphs" xml:space="preserve">100000</text>
<line x1="125.0" x2="132.5" y1="776.1" y2="776.1" stroke="#484f58" stroke-width="1.6"/>
<text x="116.6" y="783.7" font-family="Liberation Sans, sans-serif" font-size="19.16" font-weight="normal" fill="#484f58" text-anchor="end" textLength="59.2" lengthAdjust="spacingAndGlyphs" xml:space="preserve">90000</text>
<line x1="125.0" x2="132.5" y1="873.1" y2="873.1" stroke="#484f58" stroke-width="1.6"/>
<text x="116.6" y="880.7" font-family="Liberation Sans, sans-serif" font-size="19.16" font-weight="normal" fill="#484f58" text-anchor="end" textLength="59.2" lengthAdjust="spacingAndGlyphs" xml:space="preserve">80000</text>
<line x1="253.7" x2="253.7" y1="954.4" y2="961.9" stroke="#484f58" stroke-width="1.6"/>
<text x="253.7" y="984.3" font-family="Liberation Sans, sans-serif" font-size="19.16" font-weight="normal" fill="#484f58" text-anchor="middle" textLength="77.7" lengthAdjust="spacingAndGlyphs" xml:space="preserve">2022-01</text>
<line x1="565.1" x2="565.1" y1="954.4" y2="961.9" stroke="#484f58" stroke-width="1.6"/>
<text x="565.1" y="984.3" font-family="Liberation Sans, sans-serif" font-size="19.16" font-weight="normal" fill="#484f58" text-anchor="middle" textLength="77.7" lengthAdjust="spacingAndGlyphs" xml:space="preserve">2022-07</text>
<line x1="881.8" x2="881.8" y1="954.4" y2="961.9" stroke="#484f58" stroke-width="1.6"/>
<text x="881.8" y="984.3" font-family="Liberation Sans, sans-serif" font-size="19.16" font-weight="normal" fill="#484f58" text-anchor="middle" textLength="77.7" lengthAdjust="spacingAndGlyphs" xml:space="preserve">2023-01</text>
<line x1="1193.2" x2="1193.2" y1="954.4" y2="961.9" stroke="#484f58" stroke-width="1.6"/>
<text x="1193.2" y="984.3" font-family="Liberation Sans, sans-serif" font-size="19.16" font-weight="normal" fill="#484f58" text-anchor="middle" textLength="77.7" lengthAdjust="spacingAndGlyphs" xml:space="preserve">2023-07</text>
<line x1="1509.8" x2="1509.8" y1="954.4" y2="961.9" stroke="#484f58" stroke-width="1.6"/>
<text x="1509.8" y="984.3" font-family="Liberation Sans, sans-serif" font-size="19.16" font-weight="normal" fill="#484f58" text-anchor="middle" textLength="77.7" lengthAdjust="spacingAndGlyphs" xml:space="preserve">2024-01</text>
<line x1="1823.0" x2="1823.0" y1="954.4" y2="961.9" stroke="#484f58" stroke-width="1.6"/>
<text x="1823.0" y="984.3" font-family="Liberation Sans, sans-serif" font-size="19.16" font-weight="normal" fill="#484f58" text-anchor="middle" textLength="77.7" lengthAdjust="spacingAndGlyphs" xml:space="preserve">2024-07</text>
<line x1="2139.6" x2="2139.6" y1="954.4" y2="961.9" stroke="#484f58" stroke-width="1.6"/>
<text x="2139.6" y="984.3" font-family="Liberation Sans, sans-serif" font-size="19.16" font-weight="normal" fill="#484f58" text-anchor="middle" textLength="77.7" lengthAdjust="spacingAndGlyphs" xml:space="preserve">2025-01</text>
<line x1="2451.0" x2="2451.0" y1="954.4" y2="961.9" stroke="#484f58" stroke-width="1.6"/>
<text x="2451.0" y="984.3" font-family="Liberation Sans, sans-serif" font-size="19.16" font-weight="normal" fill="#484f58" text-anchor="middle" textLength="77.7" lengthAdjust="spacingAndGlyphs" xml:space="preserve">2025-07</text>
<line x1="2767.6" x2="2767.6" y1="954.4" y2="961.9" stroke="#484f58" stroke-width="1.6"/>
<text x="2767.6" y="984.3" font-family="Liberation Sans, sans-serif" font-size="19.16" font-weight="normal" fill="#484f58" text-anchor="middle" textLength="77.7" lengthAdjust="spacingAndGlyphs" xml:space="preserve">2026-01</text>
<text x="30.6" y="543.0" font-family="Liberation Sans, sans-serif" font-size="23.75" font-weight="normal" fill="#8b949e" text-anchor="middle" textLength="134.9" lengthAdjust="spacingAndGlyphs" xml:space="preserve" transform="rotate(-90 30.6 543)">Portfolio ($)</text>
<rect x="143.1" y="140.1" width="192.29999999999998" height="67.30000000000001" rx="4" ry="4" fill="#161b22" fill-opacity="0.8" stroke="#30363d" stroke-width="2"/>
<line x1="148.9" x2="196.1" y1="157.45" y2="157.45" stroke="#58a6ff" stroke-width="5.1"/>
<line x1="151.3" x2="193.7" y1="187.5" y2="187.5" stroke="#484f58" stroke-width="2.6" stroke-dasharray="9.4 3.9"/>
<text x="210.3" y="165.0" font-family="Liberation Sans, sans-serif" font-size="21.45" font-weight="normal" fill="#8b949e" text-anchor="start" textLength="89.3" lengthAdjust="spacingAndGlyphs" xml:space="preserve">Strategy</text>
<text x="210.0" y="195.3" font-family="Liberation Sans, sans-serif" font-size="21.45" font-weight="normal" fill="#8b949e" text-anchor="start" textLength="116.7" lengthAdjust="spacingAndGlyphs" xml:space="preserve">Buy &amp; Hold</text>
<text x="166.5" y="1161.0" font-family="Liberation Sans, sans-serif" font-size="28.04" font-weight="bold" fill="#d4a843" text-anchor="start" textLength="179.9" lengthAdjust="spacingAndGlyphs" xml:space="preserve">Key Metrics</text>
<text x="167.2" y="1206.0" font-family="Liberation Sans, sans-serif" font-size="23.75" font-weight="normal" fill="#484f58" text-anchor="start" textLength="65.4" lengthAdjust="spacingAndGlyphs" xml:space="preserve">CAGR</text>
<text x="975.7" y="1206.0" font-family="Liberation Sans, sans-serif" font-size="23.75" font-weight="bold" fill="#3fb950" text-anchor="end" textLength="99.3" lengthAdjust="spacingAndGlyphs" xml:space="preserve">+6.25%</text>
<text x="167.2" y="1254.5" font-family="Liberation Sans, sans-serif" font-size="23.75" font-weight="normal" fill="#484f58" text-anchor="start" textLength="131.3" lengthAdjust="spacingAndGlyphs" xml:space="preserve">Benchmark</text>
<text x="975.7" y="1254.5" font-family="Liberation Sans, sans-serif" font-size="23.75" font-weight="bold" fill="#8b949e" text-anchor="end" textLength="115.4" lengthAdjust="spacingAndGlyphs" xml:space="preserve">+50.91%</text>
<text x="167.2" y="1303.0" font-family="Liberation Sans, sans-serif" font-size="23.75" font-weight="normal" fill="#484f58" text-anchor="start" textLength="154.2" lengthAdjust="spacingAndGlyphs" xml:space="preserve">Sharpe / SQN</text>
<text x="975.7" y="1303.0" font-family="Liberation Sans, sans-serif" font-size="23.75" font-weight="bold" fill="#e6edf3" text-anchor="end" textLength="154.3" lengthAdjust="spacingAndGlyphs" xml:space="preserve">0.67  /  1.21</text>
<text x="167.2" y="1351.5" font-family="Liberation Sans, sans-serif" font-size="23.75" font-weight="normal" fill="#484f58" text-anchor="start" textLength="177.5" lengthAdjust="spacingAndGlyphs" xml:space="preserve">Max Drawdown</text>
<text x="975.7" y="1351.5" font-family="Liberation Sans, sans-serif" font-size="23.75" font-weight="bold" fill="#f85149" text-anchor="end" textLength="89.6" lengthAdjust="spacingAndGlyphs" xml:space="preserve">-12.3%</text>
<text x="167.2" y="1400.0" font-family="Liberation Sans, sans-serif" font-size="23.75" font-weight="normal" fill="#484f58" text-anchor="start" textLength="133.8" lengthAdjust="spacingAndGlyphs" xml:space="preserve">Expectancy</text>
<text x="975.7" y="1400.0" font-family="Liberation Sans, sans-serif" font-size="23.75" font-weight="bold" fill="#e6edf3" text-anchor="end" textLength="89.0" lengthAdjust="spacingAndGlyphs" xml:space="preserve">$1,224</text>
<text x="167.2" y="1448.6" font-family="Liberation Sans, sans-serif" font-size="23.75" font-weight="normal" fill="#484f58" text-anchor="start" textLength="138.1" lengthAdjust="spacingAndGlyphs" xml:space="preserve">Profit Factor</text>
<text x="975.7" y="1448.6" font-family="Liberation Sans, sans-serif" font-size="23.75" font-weight="bold" fill="#e6edf3" text-anchor="end" textLength="56.9" lengthAdjust="spacingAndGlyphs" xml:space="preserve">1.77</text>
<text x="167.2" y="1497.0" font-family="Liberation Sans, sans-serif" font-size="23.75" font-weight="normal" fill="#484f58" text-anchor="start" textLength="54.6" lengthAdjust="spacingAndGlyphs" xml:space="preserve">Kelly</text>
<text x="975.7" y="1497.0" font-family="Liberation Sans, sans-serif" font-size="23.75" font-weight="bold" fill="#8b949e" text-anchor="end" textLength="80.0" lengthAdjust="spacingAndGlyphs" xml:space="preserve">21.8%</text>
<text x="167.2" y="1545.4" font-family="Liberation Sans, sans-serif" font-size="23.75" font-weight="normal" fill="#484f58" text-anchor="start" textLength="75.1" lengthAdjust="spacingAndGlyphs" xml:space="preserve">Trades</text>
<text x="975.7" y="1545.4" font-family="Liberation Sans, sans-serif" font-size="23.75" font-weight="bold" fill="#8b949e" text-anchor="end" textLength="32.1" lengthAdjust="spacingAndGlyphs" xml:space="preserve">22</text>
<text x="1106.7" y="1161.0" font-family="Liberation Sans, sans-serif" font-size="28.04" font-weight="bold" fill="#d4a843" text-anchor="start" textLength="239.0" lengthAdjust="spacingAndGlyphs" xml:space="preserve">Trade Statistics</text>
<text x="1107.4" y="1206.0" font-family="Liberation Sans, sans-serif" font-size="23.75" font-weight="normal" fill="#484f58" text-anchor="start" textLength="136.3" lengthAdjust="spacingAndGlyphs" xml:space="preserve">Total Trades</text>
<text x="1916.0" y="1206.0" font-family="Liberation Sans, sans-serif" font-size="23.75" font-weight="bold" fill="#e6edf3" text-anchor="end" textLength="32.1" lengthAdjust="spacingAndGlyphs" xml:space="preserve">22</text>
<text x="1107.4" y="1254.5" font-family="Liberation Sans, sans-serif" font-size="23.75" font-weight="normal" fill="#484f58" text-anchor="start" textLength="138.1" lengthAdjust="spacingAndGlyphs" xml:space="preserve">Profit Factor</text>
<text x="1916.0" y="1254.5" font-family="Liberation Sans, sans-serif" font-size="23.75" font-weight="bold" fill="#e6edf3" text-anchor="end" textLength="56.9" lengthAdjust="spacingAndGlyphs" xml:space="preserve">1.77</text>
<text x="1107.4" y="1303.0" font-family="Liberation Sans, sans-serif" font-size="23.75" font-weight="normal" fill="#484f58" text-anchor="start" textLength="121.5" lengthAdjust="spacingAndGlyphs" xml:space="preserve">Best Trade</text>
<text x="1916.0" y="1303.0" font-family="Liberation Sans, sans-serif" font-size="23.75" font-weight="bold" fill="#3fb950" text-anchor="end" textLength="99.3" lengthAdjust="spacingAndGlyphs" xml:space="preserve">+5.98%</text>
<text x="1107.4" y="1351.5" font-family="Liberation Sans, sans-serif" font-size="23.75" font-weight="normal" fill="#484f58" text-anchor="start" textLength="136.6" lengthAdjust="spacingAndGlyphs" xml:space="preserve">Worst Trade</text>
<text x="1916.0" y="1351.5" font-family="Liberation Sans, sans-serif" font-size="23.75" font-weight="bold" fill="#f85149" text-anchor="end" textLength="89.6" lengthAdjust="spacingAndGlyphs" xml:space="preserve">-3.02%</text>
<text x="1107.4" y="1400.0" font-family="Liberation Sans, sans-serif" font-size="23.75" font-weight="normal" fill="#484f58" text-anchor="start" textLength="113.2" lengthAdjust="spacingAndGlyphs" xml:space="preserve">Avg Trade</text>
<text x="1916.0" y="1400.0" font-family="Liberation Sans, sans-serif" font-size="23.75" font-weight="bold" fill="#3fb950" text-anchor="end" textLength="99.3" lengthAdjust="spacingAndGlyphs" xml:space="preserve">+1.21%</text>
<text x="1107.4" y="1448.6" font-family="Liberation Sans, sans-serif" font-size="23.75" font-weight="normal" fill="#484f58" text-anchor="start" textLength="230.2" lengthAdjust="spacingAndGlyphs" xml:space="preserve">Max Consec. Losses</text>
<text x="1916.0" y="1448.6" font-family="Liberation Sans, sans-serif" font-size="23.75" font-weight="bold" fill="#e6edf3" text-anchor="end" textLength="16.0" lengthAdjust="spacingAndGlyphs" xml:space="preserve">4</text>
<text x="1107.4" y="1497.0" font-family="Liberation Sans, sans-serif" font-size="23.75" font-weight="normal" fill="#484f58" text-anchor="start" textLength="138.2" lengthAdjust="spacingAndGlyphs" xml:space="preserve">Avg Holding</text>
<text x="1916.0" y="1497.0" font-family="Liberation Sans, sans-serif" font-size="23.75" font-weight="bold" fill="#8b949e" text-anchor="end" textLength="97.3" lengthAdjust="spacingAndGlyphs" xml:space="preserve">26 bars</text>
<text x="1107.4" y="1545.4" font-family="Liberation Sans, sans-serif" font-size="23.75" font-weight="normal" fill="#484f58" text-anchor="start" textLength="124.5" lengthAdjust="spacingAndGlyphs" xml:space="preserve">Total Costs</text>
<text x="1916.0" y="1545.4" font-family="Liberation Sans, sans-serif" font-size="23.75" font-weight="bold" fill="#8b949e" text-anchor="end" textLength="89.0" lengthAdjust="spacingAndGlyphs" xml:space="preserve">$1,049</text>
<rect x="2013.6" y="1131.5" width="879.2000000000003" height="448.70000000000005" fill="#161b22"/>
<line x1="2013.6" x2="2892.8" y1="1151.0" y2="1151.0" stroke="#21262d" stroke-width="1.4" opacity="0.12"/>
<line x1="2013.6" x2="2892.8" y1="1217.6" y2="1217.6" stroke="#21262d" stroke-width="1.4" opacity="0.12"/>
<line x1="2013.6" x2="2892.8" y1="1284.3" y2="1284.3" stroke="#21262d" stroke-width="1.4" opacity="0.12"/>
<line x1="2013.6" x2="2892.8" y1="1350.9" y2="1350.9" stroke="#21262d" stroke-width="1.4" opacity="0.12"/>
<line x1="2013.6" x2="2892.8" y1="1417.6" y2="1417.6" stroke="#21262d" stroke-width="1.4" opacity="0.12"/>
<line x1="2013.6" x2="2892.8" y1="1484.2" y2="1484.2" stroke="#21262d" stroke-width="1.4" opacity="0.12"/>
<line x1="2013.6" x2="2892.8" y1="1550.8" y2="1550.8" stroke="#21262d" stroke-width="1.4" opacity="0.12"/>
<line x1="2051.9" x2="2051.9" y1="1131.5" y2="1580.2" stroke="#21262d" stroke-width="1.4" opacity="0.12"/>
<line x1="2151.1" x2="2151.1" y1="1131.5" y2="1580.2" stroke="#21262d" stroke-width="1.4" opacity="0.12"/>
<line x1="2251.8" x2="2251.8" y1="1131.5" y2="1580.2" stroke="#21262d" stroke-width="1.4" opacity="0.12"/>
<line x1="2351.0" x2="2351.0" y1="1131.5" y2="1580.2" stroke="#21262d" stroke-width="1.4" opacity="0.12"/>
<line x1="2451.8" x2="2451.8" y1="1131.5" y2="1580.2" stroke="#21262d" stroke-width="1.4" opacity="0.12"/>
<line x1="2551.5" x2="2551.5" y1="1131.5" y2="1580.2" stroke="#21262d" stroke-width="1.4" opacity="0.12"/>
<line x1="2652.3" x2="2652.3" y1="1131.5" y2="1580.2" stroke="#21262d" stroke-width="1.4" opacity="0.12"/>
<line x1="2751.4" x2="2751.4" y1="1131.5" y2="1580.2" stroke="#21262d" stroke-width="1.4" opacity="0.12"/>
<line x1="2852.2" x2="2852.2" y1="1131.5" y2="1580.2" stroke="#21262d" stroke-width="1.4" opacity="0.12"/>
<polygon points="2052.5,1151.5 2052.5,1151.5 2095.8,1151.5 2096.4,1175.5 2096.9,1151.5 2098.1,1151.5 2098.8,1151.5 2099.4,1151.5 2100.0,1151.5 2100.8,1224.0 2101.3,1221.3 2102.7,1187.7 2103.3,1187.7 2104.1,1260.2 2104.8,1244.6 2105.7,1265.2 2107.5,1319.4 2108.0,1285.8 2108.7,1322.1 2110.7,1322.1 2111.2,1272.9 2111.9,1272.9 2113.1,1353.0 2161.6,1353.0 2162.1,1319.4 2162.8,1348.0 2164.1,1345.3 2164.9,1381.6 2166.3,1216.0 2167.6,1216.0 2168.7,1244.6 2169.3,1195.4 2171.8,1202.0 2172.7,1220.0 2173.0,1168.5 2173.8,1194.4 2174.2,1151.5 2176.3,1151.5 2177.0,1175.8 2177.8,1168.3 2178.6,1219.6 2179.9,1283.4 2180.7,1288.3 2181.4,1229.8 2181.9,1302.8 2215.3,1302.8 2215.9,1316.6 2216.3,1240.0 2218.4,1267.9 2218.9,1288.3 2219.7,1398.5 2223.6,1398.5 2224.1,1375.5 2225.5,1403.5 2226.3,1375.5 2227.3,1411.3 2228.1,1394.9 2229.7,1407.1 2230.4,1355.1 2231.2,1344.6 2232.1,1347.2 2234.0,1403.5 2234.4,1303.8 2235.6,1311.4 2237.3,1365.3 2238.1,1416.3 2239.1,1393.3 2239.6,1416.3 2241.7,1349.8 2242.3,1372.9 2243.1,1462.3 2243.5,1467.6 2264.1,1467.6 2265.2,1454.8 2265.8,1421.5 2266.4,1416.3 2268.0,1457.1 2269.5,1332.1 2270.5,1370.2 2271.6,1380.4 2272.3,1344.6 2273.3,1406.1 2275.7,1362.7 2276.8,1352.5 2277.3,1395.9 2280.1,1465.0 2281.1,1454.8 2281.6,1488.0 2283.4,1477.8 2284.4,1500.8 2285.5,1426.5 2287.2,1423.8 2287.8,1465.0 2288.3,1469.9 2289.1,1526.1 2292.7,1526.1 2300.9,1527.1 2302.4,1512.7 2303.5,1538.3 2304.2,1527.1 2306.4,1522.9 2307.5,1535.7 2308.0,1494.9 2308.6,1499.8 2310.6,1487.3 2311.8,1505.1 2313.4,1502.5 2314.1,1548.5 2315.1,1561.3 2316.0,1479.4 2317.3,1479.4 2318.0,1482.1 2319.4,1556.1 2320.2,1499.8 2321.9,1499.8 2322.3,1512.7 2322.9,1499.8 2323.9,1507.7 2325.4,1497.5 2326.0,1520.6 2327.2,1454.1 2329.4,1456.4 2330.4,1512.7 2331.5,1446.2 2333.6,1445.2 2334.2,1464.3 2335.3,1390.0 2337.8,1392.6 2338.3,1397.9 2340.7,1354.1 2342.0,1349.2 2342.5,1312.3 2345.9,1346.6 2346.4,1343.9 2346.9,1364.3 2348.6,1380.8 2349.2,1346.6 2350.1,1339.0 2350.6,1295.6 2352.6,1290.3 2353.4,1297.9 2354.0,1323.5 2354.6,1331.1 2356.5,1320.9 2357.8,1251.8 2360.0,1239.3 2360.5,1213.7 2361.2,1208.4 2361.8,1234.1 2364.5,1208.4 2365.4,1229.1 2366.1,1195.6 2367.7,1188.0 2368.4,1200.8 2369.0,1244.3 2369.9,1269.9 2371.5,1240.6 2372.7,1280.1 2374.1,1277.5 2375.4,1259.7 2376.1,1303.1 2413.7,1303.1 2423.9,1302.1 2425.1,1296.9 2425.7,1233.1 2427.6,1217.6 2429.0,1194.9 2429.6,1199.9 2430.6,1187.0 2433.0,1192.3 2434.2,1189.7 2434.9,1159.1 2437.7,1189.7 2438.6,1156.4 2439.4,1151.5 2440.7,1151.5 2441.5,1151.5 2442.9,1151.5 2444.1,1151.5 2444.8,1151.5 2445.5,1196.5 2446.1,1161.5 2449.6,1151.5 2452.6,1179.0 2453.6,1216.2 2454.3,1211.4 2455.5,1171.7 2456.3,1171.7 2457.0,1154.1 2458.8,1156.6 2460.2,1166.6 2460.8,1181.6 2461.8,1151.5 2463.7,1151.5 2464.9,1151.5 2465.3,1151.5 2465.9,1151.5 2467.4,1151.5 2467.9,1156.2 2468.6,1206.8 2469.4,1151.5 2471.1,1161.4 2472.2,1151.5 2473.5,1151.5 2475.2,1153.6 2475.6,1196.3 2476.7,1151.5 2477.8,1172.8 2479.6,1184.7 2480.5,1151.5 2481.3,1151.5 2482.8,1160.8 2483.9,1158.4 2484.7,1151.5 2486.5,1153.9 2487.1,1186.4 2488.2,1151.5 2488.9,1172.3 2490.4,1169.9 2490.9,1151.5 2492.5,1185.8 2494.4,1165.1 2495.8,1151.5 2498.6,1169.6 2499.1,1151.5 2501.9,1158.2 2503.6,1214.7 2504.0,1178.6 2506.3,1173.9 2506.8,1205.7 2507.5,1185.3 2507.8,1217.1 2509.5,1269.2 2522.6,1269.2 2523.4,1275.9 2525.3,1275.9 2526.2,1219.4 2528.5,1214.7 2529.3,1208.0 2530.4,1239.8 2531.0,1219.4 2533.7,1217.1 2534.6,1257.8 2534.9,1233.1 2536.9,1228.4 2537.7,1187.9 2539.9,1180.9 2540.9,1169.6 2541.4,1151.5 2542.6,1151.5 2544.5,1151.5 2548.1,1175.3 2548.5,1161.8 2549.7,1152.9 2550.3,1166.4 2552.0,1157.2 2552.9,1151.5 2553.9,1151.5 2556.0,1151.5 2556.6,1151.5 2557.5,1179.8 2558.2,1157.9 2559.3,1151.5 2559.9,1151.5 2560.4,1190.4 2561.3,1229.4 2561.9,1246.6 2562.9,1216.3 2563.5,1212.1 2564.0,1233.5 2564.4,1292.0 2579.2,1292.0 2580.2,1309.2 2580.8,1274.7 2582.7,1283.3 2583.6,1296.4 2584.6,1268.3 2585.2,1276.9 2586.6,1326.7 2587.9,1346.2 2588.6,1387.1 2595.8,1387.1 2597.5,1378.5 2598.6,1367.6 2599.0,1376.2 2599.5,1365.7 2601.6,1354.8 2602.2,1385.1 2603.2,1389.3 2603.7,1361.2 2605.4,1389.3 2606.4,1339.5 2607.4,1328.7 2609.2,1298.6 2609.9,1324.5 2611.4,1296.4 2613.6,1305.0 2614.3,1333.1 2617.3,1313.6 2618.1,1322.3 2618.6,1382.9 2619.8,1372.1 2620.7,1378.5 2621.5,1337.6 2622.0,1257.5 2622.9,1224.9 2624.5,1220.8 2625.8,1231.6 2626.9,1292.0 2629.2,1270.5 2630.7,1240.2 2632.4,1223.0 2632.9,1214.1 2633.6,1218.5 2634.2,1205.5 2636.9,1199.1 2637.4,1179.6 2638.9,1179.6 2640.5,1205.5 2641.1,1179.6 2641.9,1199.1 2643.8,1184.0 2644.6,1194.6 2645.0,1292.0 2646.1,1302.8 2655.6,1302.8 2664.1,1302.5 2664.6,1283.1 2665.3,1295.8 2666.7,1334.8 2667.3,1311.1 2668.5,1308.9 2670.6,1343.4 2671.7,1311.1 2672.3,1302.5 2673.0,1328.4 2674.7,1311.1 2675.7,1315.3 2676.2,1285.0 2678.7,1274.4 2679.3,1265.8 2680.0,1278.6 2680.5,1330.6 2682.2,1347.9 2683.4,1365.1 2683.9,1399.6 2719.0,1399.6 2720.3,1395.4 2721.0,1419.1 2722.2,1389.0 2723.0,1389.0 2724.5,1274.4 2725.5,1256.9 2726.4,1226.9 2728.3,1223.3 2728.9,1237.4 2729.4,1287.2 2730.3,1306.7 2732.4,1244.1 2733.4,1252.7 2735.6,1235.5 2736.2,1218.3 2737.3,1235.5 2738.1,1205.2 2739.8,1198.8 2740.3,1183.5 2741.4,1179.3 2741.8,1213.8 2743.3,1185.7 2744.0,1209.4 2745.6,1218.3 2747.0,1194.3 2747.7,1153.2 2748.5,1151.5 2749.2,1151.5 2750.4,1151.5 2752.2,1151.5 2752.8,1151.5 2755.6,1176.6 2756.5,1151.5 2757.4,1158.0 2758.8,1155.8 2759.5,1166.3 2760.5,1151.5 2763.1,1151.5 2764.3,1151.5 2765.1,1151.5 2766.3,1151.5 2767.8,1165.9 2768.4,1180.6 2768.7,1230.1 2770.0,1188.8 2771.1,1180.6 2772.5,1153.6 2774.0,1153.6 2775.0,1151.5 2776.6,1151.5 2777.2,1155.5 2778.4,1155.5 2779.8,1196.3 2780.1,1151.5 2781.9,1163.9 2783.4,1151.5 2786.3,1194.2 2787.2,1151.5 2788.1,1157.5 2789.8,1151.5 2790.5,1151.5 2791.2,1151.5 2792.0,1151.5 2793.5,1151.5 2794.5,1157.4 2795.5,1151.5 2797.1,1151.5 2799.0,1192.9 2799.4,1177.2 2801.2,1167.2 2802.4,1151.5 2803.5,1151.5 2805.9,1151.5 2806.5,1163.1 2807.1,1251.5 2814.5,1251.5 2816.5,1235.8 2817.4,1229.8 2818.0,1265.1 2819.2,1251.5 2820.2,1249.5 2820.7,1286.9 2821.4,1277.0 2822.4,1349.7 2837.9,1349.7 2839.5,1365.4 2840.3,1365.4 2841.0,1337.9 2841.7,1369.2 2843.2,1377.0 2844.2,1418.4 2845.3,1371.2 2847.0,1351.5 2848.2,1326.0 2849.4,1324.2 2851.4,1337.9 2852.3,1365.4 2852.3,1151.5" fill="#f85149" fill-opacity="0.15" stroke="#f85149" stroke-opacity="0.15" stroke-width="1.4"/>
<polyline points="2052.5,1151.5 2095.8,1151.5 2096.4,1175.5 2096.9,1151.5 2098.1,1151.5 2098.8,1151.5 2099.4,1151.5 2100.0,1151.5 2100.8,1224.0 2101.3,1221.3 2102.7,1187.7 2103.3,1187.7 2104.1,1260.2 2104.8,1244.6 2105.7,1265.2 2107.5,1319.4 2108.0,1285.8 2108.7,1322.1 2110.7,1322.1 2111.2,1272.9 2111.9,1272.9 2113.1,1353.0 2161.6,1353.0 2162.1,1319.4 2162.8,1348.0 2164.1,1345.3 2164.9,1381.6 2166.3,1216.0 2167.6,1216.0 2168.7,1244.6 2169.3,1195.4 2171.8,1202.0 2172.7,1220.0 2173.0,1168.5 2173.8,1194.4 2174.2,1151.5 2176.3,1151.5 2177.0,1175.8 2177.8,1168.3 2178.6,1219.6 2179.9,1283.4 2180.7,1288.3 2181.4,1229.8 2181.9,1302.8 2215.3,1302.8 2215.9,1316.6 2216.3,1240.0 2218.4,1267.9 2218.9,1288.3 2219.7,1398.5 2223.6,1398.5 2224.1,1375.5 2225.5,1403.5 2226.3,1375.5 2227.3,1411.3 2228.1,1394.9 2229.7,1407.1 2230.4,1355.1 2231.2,1344.6 2232.1,1347.2 2234.0,1403.5 2234.4,1303.8 2235.6,1311.4 2237.3,1365.3 2238.1,1416.3 2239.1,1393.3 2239.6,1416.3 2241.7,1349.8 2242.3,1372.9 2243.1,1462.3 2243.5,1467.6 2264.1,1467.6 2265.2,1454.8 2265.8,1421.5 2266.4,1416.3 2268.0,1457.1 2269.5,1332.1 2270.5,1370.2 2271.6,1380.4 2272.3,1344.6 2273.3,1406.1 2275.7,1362.7 2276.8,1352.5 2277.3,1395.9 2280.1,1465.0 2281.1,1454.8 2281.6,1488.0 2283.4,1477.8 2284.4,1500.8 2285.5,1426.5 2287.2,1423.8 2287.8,1465.0 2288.3,1469.9 2289.1,1526.1 2292.7,1526.1 2300.9,1527.1 2302.4,1512.7 2303.5,1538.3 2304.2,1527.1 2306.4,1522.9 2307.5,1535.7 2308.0,1494.9 2308.6,1499.8 2310.6,1487.3 2311.8,1505.1 2313.4,1502.5 2314.1,1548.5 2315.1,1561.3 2316.0,1479.4 2317.3,1479.4 2318.0,1482.1 2319.4,1556.1 2320.2,1499.8 2321.9,1499.8 2322.3,1512.7 2322.9,1499.8 2323.9,1507.7 2325.4,1497.5 2326.0,1520.6 2327.2,1454.1 2329.4,1456.4 2330.4,1512.7 2331.5,1446.2 2333.6,1445.2 2334.2,1464.3 2335.3,1390.0 2337.8,1392.6 2338.3,1397.9 2340.7,1354.1 2342.0,1349.2 2342.5,1312.3 2345.9,1346.6 2346.4,1343.9 2346.9,1364.3 2348.6,1380.8 2349.2,1346.6 2350.1,1339.0 2350.6,1295.6 2352.6,1290.3 2353.4,1297.9 2354.0,1323.5 2354.6,1331.1 2356.5,1320.9 2357.8,1251.8 2360.0,1239.3 2360.5,1213.7 2361.2,1208.4 2361.8,1234.1 2364.5,1208.4 2365.4,1229.1 2366.1,1195.6 2367.7,1188.0 2368.4,1200.8 2369.0,1244.3 2369.9,1269.9 2371.5,1240.6 2372.7,1280.1 2374.1,1277.5 2375.4,1259.7 2376.1,1303.1 2413.7,1303.1 2423.9,1302.1 2425.1,1296.9 2425.7,1233.1 2427.6,1217.6 2429.0,1194.9 2429.6,1199.9 2430.6,1187.0 2433.0,1192.3 2434.2,1189.7 2434.9,1159.1 2437.7,1189.7 2438.6,1156.4 2439.4,1151.5 2440.7,1151.5 2441.5,1151.5 2442.9,1151.5 2444.1,1151.5 2444.8,1151.5 2445.5,1196.5 2446.1,1161.5 2449.6,1151.5 2452.6,1179.0 2453.6,1216.2 2454.3,1211.4 2455.5,1171.7 2456.3,1171.7 2457.0,1154.1 2458.8,1156.6 2460.2,1166.6 2460.8,1181.6 2461.8,1151.5 2463.7,1151.5 2464.9,1151.5 2465.3,1151.5 2465.9,1151.5 2467.4,1151.5 2467.9,1156.2 2468.6,1206.8 2469.4,1151.5 2471.1,1161.4 2472.2,1151.5 2473.5,1151.5 2475.2,1153.6 2475.6,1196.3 2476.7,1151.5 2477.8,1172.8 2479.6,1184.7 2480.5,1151.5 2481.3,1151.5 2482.8,1160.8 2483.9,1158.4 2484.7,1151.5 2486.5,1153.9 2487.1,1186.4 2488.2,1151.5 2488.9,1172.3 2490.4,1169.9 2490.9,1151.5 2492.5,1185.8 2494.4,1165.1 2495.8,1151.5 2498.6,1169.6 2499.1,1151.5 2501.9,1158.2 2503.6,1214.7 2504.0,1178.6 2506.3,1173.9 2506.8,1205.7 2507.5,1185.3 2507.8,1217.1 2509.5,1269.2 2522.6,1269.2 2523.4,1275.9 2525.3,1275.9 2526.2,1219.4 2528.5,1214.7 2529.3,1208.0 2530.4,1239.8 2531.0,1219.4 2533.7,1217.1 2534.6,1257.8 2534.9,1233.1 2536.9,1228.4 2537.7,1187.9 2539.9,1180.9 2540.9,1169.6 2541.4,1151.5 2542.6,1151.5 2544.5,1151.5 2548.1,1175.3 2548.5,1161.8 2549.7,1152.9 2550.3,1166.4 2552.0,1157.2 2552.9,1151.5 2553.9,1151.5 2556.0,1151.5 2556.6,1151.5 2557.5,1179.8 2558.2,1157.9 2559.3,1151.5 2559.9,1151.5 2560.4,1190.4 2561.3,1229.4 2561.9,1246.6 2562.9,1216.3 2563.5,1212.1 2564.0,1233.5 2564.4,1292.0 2579.2,1292.0 2580.2,1309.2 2580.8,1274.7 2582.7,1283.3 2583.6,1296.4 2584.6,1268.3 2585.2,1276.9 2586.6,1326.7 2587.9,1346.2 2588.6,1387.1 2595.8,1387.1 2597.5,1378.5 2598.6,1367.6 2599.0,1376.2 2599.5,1365.7 2601.6,1354.8 2602.2,1385.1 2603.2,1389.3 2603.7,1361.2 2605.4,1389.3 2606.4,1339.5 2607.4,1328.7 2609.2,1298.6 2609.9,1324.5 2611.4,1296.4 2613.6,1305.0 2614.3,1333.1 2617.3,1313.6 2618.1,1322.3 2618.6,1382.9 2619.8,1372.1 2620.7,1378.5 2621.5,1337.6 2622.0,1257.5 2622.9,1224.9 2624.5,1220.8 2625.8,1231.6 2626.9,1292.0 2629.2,1270.5 2630.7,1240.2 2632.4,1223.0 2632.9,1214.1 2633.6,1218.5 2634.2,1205.5 2636.9,1199.1 2637.4,1179.6 2638.9,1179.6 2640.5,1205.5 2641.1,1179.6 2641.9,1199.1 2643.8,1184.0 2644.6,1194.6 2645.0,1292.0 2646.1,1302.8 2655.6,1302.8 2664.1,1302.5 2664.6,1283.1 2665.3,1295.8 2666.7,1334.8 2667.3,1311.1 2668.5,1308.9 2670.6,1343.4 2671.7,1311.1 2672.3,1302.5 2673.0,1328.4 2674.7,1311.1 2675.7,1315.3 2676.2,1285.0 2678.7,1274.4 2679.3,1265.8 2680.0,1278.6 2680.5,1330.6 2682.2,1347.9 2683.4,1365.1 2683.9,1399.6 2719.0,1399.6 2720.3,1395.4 2721.0,1419.1 2722.2,1389.0 2723.0,1389.0 2724.5,1274.4 2725.5,1256.9 2726.4,1226.9 2728.3,1223.3 2728.9,1237.4 2729.4,1287.2 2730.3,1306.7 2732.4,1244.1 2733.4,1252.7 2735.6,1235.5 2736.2,1218.3 2737.3,1235.5 2738.1,1205.2 2739.8,1198.8 2740.3,1183.5 2741.4,1179.3 2741.8,1213.8 2743.3,1185.7 2744.0,1209.4 2745.6,1218.3 2747.0,1194.3 2747.7,1153.2 2748.5,1151.5 2749.2,1151.5 2750.4,1151.5 2752.2,1151.5 2752.8,1151.5 2755.6,1176.6 2756.5,1151.5 2757.4,1158.0 2758.8,1155.8 2759.5,1166.3 2760.5,1151.5 2763.1,1151.5 2764.3,1151.5 2765.1,1151.5 2766.3,1151.5 2767.8,1165.9 2768.4,1180.6 2768.7,1230.1 2770.0,1188.8 2771.1,1180.6 2772.5,1153.6 2774.0,1153.6 2775.0,1151.5 2776.6,1151.5 2777.2,1155.5 2778.4,1155.5 2779.8,1196.3 2780.1,1151.5 2781.9,1163.9 2783.4,1151.5 2786.3,1194.2 2787.2,1151.5 2788.1,1157.5 2789.8,1151.5 2790.5,1151.5 2791.2,1151.5 2792.0,1151.5 2793.5,1151.5 2794.5,1157.4 2795.5,1151.5 2797.1,1151.5 2799.0,1192.9 2799.4,1177.2 2801.2,1167.2 2802.4,1151.5 2803.5,1151.5 2805.9,1151.5 2806.5,1163.1 2807.1,1251.5 2814.5,1251.5 2816.5,1235.8 2817.4,1229.8 2818.0,1265.1 2819.2,1251.5 2820.2,1249.5 2820.7,1286.9 2821.4,1277.0 2822.4,1349.7 2837.9,1349.7 2839.5,1365.4 2840.3,1365.4 2841.0,1337.9 2841.7,1369.2 2843.2,1377.0 2844.2,1418.4 2845.3,1371.2 2847.0,1351.5 2848.2,1326.0 2849.4,1324.2 2851.4,1337.9 2852.3,1365.4" fill="none" stroke="#f85149" stroke-opacity="0.87" stroke-width="2.3" stroke-linejoin="round"/>
<rect x="2013.6" y="1131.5" width="879.2000000000003" height="448.70000000000005" fill="none" stroke="#30363d" stroke-width="1.5"/>
<line x1="2006.1" x2="2013.6" y1="1151.0" y2="1151.0" stroke="#484f58" stroke-width="1.6"/>
<text x="1997.3" y="1158.2" font-family="Liberation Sans, sans-serif" font-size="17.10" font-weight="normal" fill="#484f58" text-anchor="end" textLength="10.6" lengthAdjust="spacingAndGlyphs" xml:space="preserve">0</text>
<line x1="2006.1" x2="2013.6" y1="1217.6" y2="1217.6" stroke="#484f58" stroke-width="1.6"/>
<text x="1997.3" y="1224.8" font-family="Liberation Sans, sans-serif" font-size="17.10" font-weight="normal" fill="#484f58" text-anchor="end" textLength="24.5" lengthAdjust="spacingAndGlyphs" xml:space="preserve">−2</text>
<line x1="2006.1" x2="2013.6" y1="1284.3" y2="1284.3" stroke="#484f58" stroke-width="1.6"/>
<text x="1997.3" y="1291.5" font-family="Liberation Sans, sans-serif" font-size="17.10" font-weight="normal" fill="#484f58" text-anchor="end" textLength="24.5" lengthAdjust="spacingAndGlyphs" xml:space="preserve">−4</text>
<line x1="2006.1" x2="2013.6" y1="1350.9" y2="1350.9" stroke="#484f58" stroke-width="1.6"/>
<text x="1997.3" y="1358.1" font-family="Liberation Sans, sans-serif" font-size="17.10" font-weight="normal" fill="#484f58" text-anchor="end" textLength="24.5" lengthAdjust="spacingAndGlyphs" xml:space="preserve">−6</text>
<line x1="2006.1" x2="2013.6" y1="1417.6" y2="1417.6" stroke="#484f58" stroke-width="1.6"/>
<text x="1997.3" y="1424.8" font-family="Liberation Sans, sans-serif" font-size="17.10" font-weight="normal" fill="#484f58" text-anchor="end" textLength="24.5" lengthAdjust="spacingAndGlyphs" xml:space="preserve">−8</text>
<line x1="2006.1" x2="2013.6" y1="1484.2" y2="1484.2" stroke="#484f58" stroke-width="1.6"/>
<text x="1997.3" y="1491.4" font-family="Liberation Sans, sans-serif" font-size="17.10" font-weight="normal" fill="#484f58" text-anchor="end" textLength="35.0" lengthAdjust="spacingAndGlyphs" xml:space="preserve">−10</text>
<line x1="2006.1" x2="2013.6" y1="1550.8" y2="1550.8" stroke="#484f58" stroke-width="1.6"/>
<text x="1997.3" y="1558.0" font-family="Liberation Sans, sans-serif" font-size="17.10" font-weight="normal" fill="#484f58" text-anchor="end" textLength="35.0" lengthAdjust="spacingAndGlyphs" xml:space="preserve">−12</text>
<line x1="2051.9" x2="2051.9" y1="1580.2" y2="1587.7" stroke="#484f58" stroke-width="1.6"/>
<text x="2051.9" y="1609.7" font-family="Liberation Sans, sans-serif" font-size="17.10" font-weight="normal" fill="#484f58" text-anchor="middle" textLength="69.4" lengthAdjust="spacingAndGlyphs" xml:space="preserve">2022-01</text>
<line x1="2151.1" x2="2151.1" y1="1580.2" y2="1587.7" stroke="#484f58" stroke-width="1.6"/>
<text x="2151.1" y="1609.7" font-family="Liberation Sans, sans-serif" font-size="17.10" font-weight="normal" fill="#484f58" text-anchor="middle" textLength="69.4" lengthAdjust="spacingAndGlyphs" xml:space="preserve">2022-07</text>
<line x1="2251.8" x2="2251.8" y1="1580.2" y2="1587.7" stroke="#484f58" stroke-width="1.6"/>
<text x="2251.8" y="1609.7" font-family="Liberation Sans, sans-serif" font-size="17.10" font-weight="normal" fill="#484f58" text-anchor="middle" textLength="69.4" lengthAdjust="spacingAndGlyphs" xml:space="preserve">2023-01</text>
<line x1="2351.0" x2="2351.0" y1="1580.2" y2="1587.7" stroke="#484f58" stroke-width="1.6"/>
<text x="2351.0" y="1609.7" font-family="Liberation Sans, sans-serif" font-size="17.10" font-weight="normal" fill="#484f58" text-anchor="middle" textLength="69.4" lengthAdjust="spacingAndGlyphs" xml:space="preserve">2023-07</text>
<line x1="2451.8" x2="2451.8" y1="1580.2" y2="1587.7" stroke="#484f58" stroke-width="1.6"/>
<text x="2451.8" y="1609.7" font-family="Liberation Sans, sans-serif" font-size="17.10" font-weight="normal" fill="#484f58" text-anchor="middle" textLength="69.4" lengthAdjust="spacingAndGlyphs" xml:space="preserve">2024-01</text>
<line x1="2551.5" x2="2551.5" y1="1580.2" y2="1587.7" stroke="#484f58" stroke-width="1.6"/>
<text x="2551.5" y="1609.7" font-family="Liberation Sans, sans-serif" font-size="17.10" font-weight="normal" fill="#484f58" text-anchor="middle" textLength="69.4" lengthAdjust="spacingAndGlyphs" xml:space="preserve">2024-07</text>
<line x1="2652.3" x2="2652.3" y1="1580.2" y2="1587.7" stroke="#484f58" stroke-width="1.6"/>
<text x="2652.3" y="1609.7" font-family="Liberation Sans, sans-serif" font-size="17.10" font-weight="normal" fill="#484f58" text-anchor="middle" textLength="69.4" lengthAdjust="spacingAndGlyphs" xml:space="preserve">2025-01</text>
<line x1="2751.4" x2="2751.4" y1="1580.2" y2="1587.7" stroke="#484f58" stroke-width="1.6"/>
<text x="2751.4" y="1609.7" font-family="Liberation Sans, sans-serif" font-size="17.10" font-weight="normal" fill="#484f58" text-anchor="middle" textLength="69.4" lengthAdjust="spacingAndGlyphs" xml:space="preserve">2025-07</text>
<line x1="2852.2" x2="2852.2" y1="1580.2" y2="1587.7" stroke="#484f58" stroke-width="1.6"/>
<text x="2852.2" y="1609.7" font-family="Liberation Sans, sans-serif" font-size="17.10" font-weight="normal" fill="#484f58" text-anchor="middle" textLength="69.4" lengthAdjust="spacingAndGlyphs" xml:space="preserve">2026-01</text>
<text x="1950.8" y="1356.5" font-family="Liberation Sans, sans-serif" font-size="21.45" font-weight="normal" fill="#8b949e" text-anchor="middle" textLength="137.0" lengthAdjust="spacingAndGlyphs" xml:space="preserve" transform="rotate(-90 1950.8 1356.5)">Drawdown %</text>
<text x="2012.5" y="1111.5" font-family="Liberation Sans, sans-serif" font-size="28.04" font-weight="bold" fill="#d4a843" text-anchor="start" textLength="399.6" lengthAdjust="spacingAndGlyphs" xml:space="preserve">Drawdown  ·  Max: -12.3%</text>
</svg>
</body></html>
